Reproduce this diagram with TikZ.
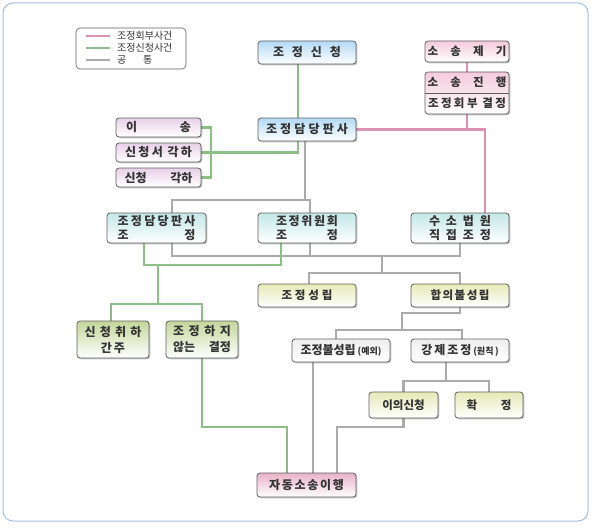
\documentclass[tikz,border=0pt]{standalone}
\usepackage{fontspec}
\setmainfont{Noto Sans CJK KR}
\usepackage{tikz}
\usetikzlibrary{calc,shadows,backgrounds}
\definecolor{ink}{HTML}{333333}
\definecolor{edge}{HTML}{5F5F5F}
\definecolor{frame}{HTML}{A3BDE0}
\definecolor{lnpink}{HTML}{D993B0}
\definecolor{lngreen}{HTML}{8CBF86}
\definecolor{lngray}{HTML}{ABABAB}
\definecolor{blueA}{HTML}{B3D9F5}
\definecolor{tealA}{HTML}{C4E7E7}
\definecolor{khakiA}{HTML}{E4EAB6}
\definecolor{greenA}{HTML}{C3D69A}
\definecolor{lilacA}{HTML}{E8D0E8}
\definecolor{pinkA}{HTML}{F4CBDA}
\definecolor{pinkB}{HTML}{E8B2C7}
\definecolor{greyA}{HTML}{EEEEEE}
\newcommand{\spread}[2]{\makebox[#1]{#2}}
\tikzset{
  box/.style     = {rectangle, rounded corners=3pt, draw=edge, line width=0.8pt,
                    top color=#1, bottom color=white, inner sep=2pt, align=center, text=ink,
                    font=\bfseries\fontsize{12}{14}\selectfont,
                    drop shadow={shadow xshift=1.3pt, shadow yshift=-1.3pt, fill=black, opacity=0.22}},
  lbl11/.style   = {font=\bfseries\fontsize{11.5}{13}\selectfont},
  wide/.style    = {minimum width=98pt, minimum height=23pt},
  refer/.style   = {draw=lnpink, line width=2.1pt},
  apply/.style   = {draw=lngreen, line width=2.1pt},
  common/.style  = {draw=lngray, line width=2.1pt},
  legtext/.style = {font=\fontsize{10}{11}\selectfont, text=ink, inner sep=0pt},
}

\begin{document}
\begin{tikzpicture}[x=1pt, y=-1pt]
  \useasboundingbox (0,0) rectangle (593,527);
  \draw[draw=frame, line width=1pt, rounded corners=10pt] (3,3) rectangle (588,521);

  % legend
  \node[rectangle, rounded corners=4pt, draw=edge, line width=0.6pt, fill=white,
        minimum width=110pt, minimum height=41pt] (legend) at (131,48.5) {};
  \foreach \yy/\st/\txt in {36/refer/조정회부사건, 48/apply/조정신청사건, 60/common/{\spread{35pt}{공\hfill 통}}} {
    \draw[\st] (86,\yy) -- (110,\yy);
    \node[legtext, anchor=west] (key\yy) at (117,\yy) {\txt};
  }

  % nodes
  \node[box=blueA, wide] (req) at (307,52.5) {\spread{68pt}{조\hfill 정\hfill 신\hfill 청}};
  \node[box=blueA, wide] (judge) at (307,129.5) {\spread{82pt}{조\hfill 정\hfill 담\hfill 당\hfill 판\hfill 사}};

  \node[box=lilacA, minimum width=85pt, minimum height=19pt] (trans) at (158.5,127.5) {\spread{65pt}{이\hfill 송}};
  \node[box=lilacA, minimum width=85pt, minimum height=19pt] (rejA) at (158.5,152.5) {\spread{67pt}{신\hfill 청\hfill 서\hfill\hfill 각\hfill 하}};
  \node[box=lilacA, minimum width=85pt, minimum height=19pt] (rejB) at (158.5,177.5) {\spread{68pt}{신청\hfill 각하}};

  \node[box=pinkA, lbl11, minimum width=84pt, minimum height=21pt] (suit) at (467,51.5) {\spread{79pt}{소\hfill 송\hfill 제\hfill 기}};
  \node[box=pinkA, minimum width=84pt, minimum height=42pt, font=\bfseries\fontsize{11.5}{21}\selectfont] (proc) at (467,93)
    {\spread{79pt}{소\hfill 송\hfill 진\hfill 행}\\\spread{78pt}{조\hfill 정\hfill 회\hfill 부\hfill\hfill 결\hfill 정}};
  \draw[draw=edge, line width=0.8pt] (proc.west) -- (proc.east);

  \node[box=tealA, minimum width=99pt, minimum height=30pt] (dj) at (156.5,228)
    {\spread{78pt}{조\hfill 정\hfill 담\hfill 당\hfill 판\hfill 사}\\\spread{78pt}{조\hfill 정}};
  \node[box=tealA, wide, minimum height=30pt] (cm) at (307,228)
    {\spread{62pt}{조\hfill 정\hfill 위\hfill 원\hfill 회}\\\spread{62pt}{조\hfill 정}};
  \node[box=tealA, wide, minimum height=30pt] (ct) at (460,228)
    {\spread{62pt}{수\hfill 소\hfill 법\hfill 원}\\\spread{62pt}{직\hfill 접\hfill 조\hfill 정}};

  \node[box=khakiA, wide, lbl11] (ok) at (307,295.5) {\spread{51pt}{조\hfill 정\hfill 성\hfill 립}};
  \node[box=khakiA, wide, lbl11] (fail) at (460,295.5) {\spread{59pt}{합\hfill 의\hfill 불\hfill 성\hfill 립}};

  \node[box=greenA, minimum width=72pt, minimum height=37pt, font=\bfseries\fontsize{12}{16}\selectfont] (wd) at (113,339.5)
    {\spread{57pt}{신\hfill 청\hfill 취\hfill 하}\\간\,주};
  \node[box=greenA, minimum width=72pt, minimum height=37pt, font=\bfseries\fontsize{12}{16}\selectfont] (nd) at (202,339.5)
    {\spread{58pt}{조\hfill 정\hfill 하\hfill 지}\\\spread{58pt}{않는\hfill 결정}};

  \node[box=greyA, wide, inner sep=1pt] (ex) at (341,350.5)
    {조정불성립\,{\fontsize{9}{10}\selectfont(예외)}};
  \node[box=greyA, wide] (forced) at (460,350.5)
    {\spread{50pt}{강\hfill 제\hfill 조\hfill 정}\,{\fontsize{9}{10}\selectfont(원칙\,)}};

  \node[box=khakiA, lbl11, minimum width=69pt, minimum height=26pt] (obj) at (403.5,405) {이의신청};
  \node[box=khakiA, lbl11, minimum width=68pt, minimum height=26pt] (fin) at (489,405) {\spread{45pt}{확\hfill 정}};

  \node[box=pinkB, minimum width=99pt, minimum height=24pt] (auto) at (306.5,485)
    {\spread{75pt}{자\hfill 동\hfill 소\hfill 송\hfill 이\hfill 행}};

  % connectors
  \begin{scope}[on background layer]
    \draw[apply] ([xshift=-9pt]req.south) -- ([xshift=-9pt]judge.north);
    \draw[apply] (trans.east) -- ++(10,0) |- (rejB.east);
    \draw[apply] (rejA.east) -| ([xshift=-9pt]judge.south);

    \draw[refer] (suit.south) -- (proc.north);
    \draw[refer] (proc.south) -- (proc.south |- judge.east);
    \draw[refer] (judge.east) -| ([xshift=25pt]ct.north);

    \draw[common] ([xshift=-2pt]judge.south) -- ++(0,59) coordinate (split);
    \draw[common] ([xshift=15.5pt]dj.north) |- (split) -| ([xshift=3pt]cm.north);
    \coordinate (bus) at (382,256);
    \draw[common] ([xshift=15.5pt]dj.south) |- (bus) -| (ct.south);
    \draw[common] ([xshift=3pt]cm.south) -- ([xshift=3pt]cm.south |- bus);
    \draw[common] (bus) -- ++(0,17) coordinate (bus2);
    \draw[common] ([xshift=2pt]ok.north) |- (bus2) -| (fail.north);

    \coordinate (gbus) at (158,265);
    \draw[apply] ([xshift=-12.5pt]dj.south) |- (gbus) -| ([xshift=-26pt]cm.south);
    \draw[apply] (gbus) -- ++(0,39) coordinate (gbus2);
    \draw[apply] ([xshift=-2pt]wd.north) |- (gbus2) -| (nd.north);
    \draw[apply] (nd.south) -- ++(0,69) -| ([xshift=-19.5pt]auto.north);

    \coordinate (fbus) at (402,330);
    \draw[common] (fail.south) -- ++(0,6) -| (fbus);
    \draw[common] ([xshift=-5pt]ex.north) |- (fbus) -| ([xshift=2pt]forced.north);
    \draw[common] ([xshift=-14pt]forced.south) -- ++(0,19) coordinate (obus);
    \draw[common] (obj.north) |- (obus) -| (fin.north);
    \draw[common] ([xshift=-28pt]ex.south) -- ([xshift=6.5pt]auto.north);
    \draw[common] (obj.south) -- ++(0,9) -| ([xshift=30.5pt]auto.north);
  \end{scope}
\end{tikzpicture}
\end{document}
